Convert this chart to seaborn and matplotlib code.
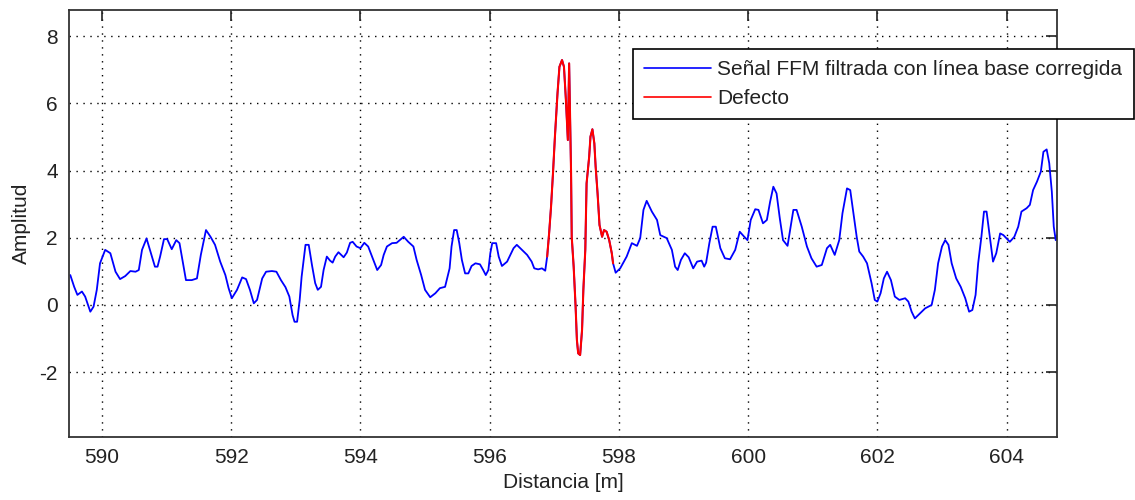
import numpy as np
import pandas as pd
import matplotlib
matplotlib.use("Agg")
import matplotlib.pyplot as plt
import seaborn as sns

# signal (distance in m, amplitude)
distancia = [
    589.51, 589.57, 589.62, 589.69, 589.74, 589.82, 589.87, 589.92, 589.97, 590.05,
    590.13, 590.21, 590.28, 590.36, 590.44, 590.52, 590.57, 590.62, 590.69, 590.75,
    590.82, 590.86, 590.90, 590.96, 591.01, 591.08, 591.15, 591.20, 591.30, 591.39,
    591.47, 591.53, 591.61, 591.68, 591.75, 591.83, 591.91, 591.96, 592.01, 592.09,
    592.17, 592.23, 592.29, 592.35, 592.40, 592.48, 592.54, 592.63, 592.70, 592.77,
    592.84, 592.90, 592.95, 592.98, 593.02, 593.06, 593.09, 593.15, 593.20, 593.25,
    593.30, 593.34, 593.39, 593.43, 593.48, 593.53, 593.57, 593.61, 593.66, 593.74,
    593.79, 593.84, 593.88, 593.94, 594.00, 594.06, 594.12, 594.20, 594.26, 594.32,
    594.36, 594.41, 594.49, 594.56, 594.61, 594.67, 594.74, 594.82, 594.87, 594.94,
    595.00, 595.08, 595.16, 595.23, 595.31, 595.38, 595.41, 595.45, 595.49, 595.53,
    595.57, 595.62, 595.67, 595.72, 595.78, 595.85, 595.90, 595.94, 595.98, 596.01,
    596.04, 596.10, 596.14, 596.19, 596.27, 596.32, 596.37, 596.42, 596.50, 596.58,
    596.65, 596.69, 596.75, 596.81, 596.86, 596.89, 596.92, 596.95, 596.98, 597.01,
    597.05, 597.08, 597.12, 597.15, 597.18, 597.21, 597.23, 597.26, 597.27, 597.30,
    597.33, 597.35, 597.37, 597.40, 597.43, 597.45, 597.48, 597.50, 597.54, 597.56,
    597.59, 597.62, 597.64, 597.67, 597.70, 597.74, 597.77, 597.81, 597.85, 597.89,
    597.91, 597.95, 598.02, 598.12, 598.20, 598.28, 598.33, 598.38, 598.43, 598.51,
    598.59, 598.64, 598.74, 598.82, 598.87, 598.91, 598.96, 599.02, 599.08, 599.15,
    599.21, 599.28, 599.32, 599.35, 599.40, 599.45, 599.50, 599.57, 599.64, 599.72,
    599.80, 599.87, 599.94, 599.99, 600.04, 600.11, 600.16, 600.23, 600.29, 600.34,
    600.39, 600.44, 600.49, 600.54, 600.61, 600.65, 600.70, 600.75, 600.83, 600.91,
    600.98, 601.06, 601.14, 601.22, 601.27, 601.34, 601.41, 601.46, 601.53, 601.58,
    601.63, 601.68, 601.72, 601.78, 601.84, 601.91, 601.96, 602.00, 602.05, 602.10,
    602.15, 602.21, 602.27, 602.34, 602.43, 602.48, 602.53, 602.58, 602.66, 602.74,
    602.84, 602.89, 602.94, 603.00, 603.05, 603.10, 603.15, 603.22, 603.29, 603.36,
    603.42, 603.47, 603.52, 603.56, 603.61, 603.65, 603.69, 603.74, 603.79, 603.84,
    603.90, 603.95, 604.05, 604.12, 604.18, 604.23, 604.31, 604.36, 604.41, 604.47,
    604.53, 604.57, 604.62, 604.66, 604.70, 604.73, 604.76, 604.78,
]
amplitud = [
    0.89, 0.54, 0.30, 0.40, 0.25, -0.20, -0.05, 0.45, 1.24, 1.64,
    1.54, 0.99, 0.77, 0.86, 1.01, 0.99, 1.04, 1.64, 1.98, 1.59,
    1.14, 1.14, 1.44, 1.96, 1.96, 1.66, 1.93, 1.84, 0.74, 0.74,
    0.79, 1.49, 2.23, 2.03, 1.79, 1.29, 0.89, 0.50, 0.20, 0.45,
    0.82, 0.77, 0.45, 0.05, 0.15, 0.79, 0.99, 1.01, 0.99, 0.74,
    0.53, 0.25, -0.30, -0.50, -0.50, 0.15, 0.84, 1.79, 1.79, 1.19,
    0.65, 0.45, 0.54, 1.04, 1.44, 1.32, 1.26, 1.44, 1.57, 1.42,
    1.56, 1.85, 1.88, 1.74, 1.69, 1.85, 1.74, 1.34, 1.04, 1.19,
    1.49, 1.74, 1.84, 1.85, 1.93, 2.03, 1.88, 1.74, 1.34, 0.89,
    0.45, 0.23, 0.35, 0.50, 0.54, 1.09, 1.74, 2.23, 2.23, 1.84,
    1.34, 0.94, 0.94, 1.16, 1.24, 1.21, 1.04, 0.89, 1.04, 1.54,
    1.84, 1.84, 1.44, 1.16, 1.29, 1.49, 1.69, 1.79, 1.64, 1.49,
    1.29, 1.09, 1.06, 1.09, 1.02, 1.44, 2.13, 2.93, 3.92, 5.01,
    6.30, 7.09, 7.29, 7.09, 6.10, 4.91, 7.19, 3.92, 2.03, 1.14,
    -0.05, -1.04, -1.44, -1.49, -0.74, 0.45, 1.64, 3.62, 4.41, 5.01,
    5.23, 4.81, 4.12, 3.32, 2.38, 2.03, 2.23, 2.18, 1.93, 1.54,
    1.24, 0.96, 1.09, 1.44, 1.84, 1.76, 1.99, 2.83, 3.10, 2.78,
    2.53, 2.08, 1.99, 1.64, 1.14, 1.04, 1.34, 1.54, 1.42, 1.09,
    1.29, 1.32, 1.14, 1.26, 1.84, 2.33, 2.33, 1.69, 1.39, 1.36,
    1.64, 2.18, 2.03, 1.93, 2.53, 2.85, 2.83, 2.43, 2.53, 3.07,
    3.52, 3.32, 2.58, 1.93, 1.76, 2.23, 2.83, 2.83, 2.33, 1.74,
    1.39, 1.14, 1.19, 1.69, 1.79, 1.49, 1.93, 2.73, 3.47, 3.42,
    2.73, 2.03, 1.59, 1.44, 1.24, 0.65, 0.15, 0.10, 0.35, 0.79,
    0.99, 0.74, 0.25, 0.15, 0.20, 0.10, -0.20, -0.40, -0.25, -0.10,
    0.00, 0.45, 1.24, 1.74, 1.93, 1.79, 1.24, 0.79, 0.54, 0.20,
    -0.20, -0.15, 0.30, 1.24, 2.03, 2.78, 2.78, 2.03, 1.29, 1.54,
    2.13, 2.08, 1.88, 2.03, 2.33, 2.78, 2.88, 2.98, 3.42, 3.67,
    3.97, 4.56, 4.63, 4.22, 3.37, 2.33, 1.93, 2.08,
]
defecto_ini = 596.89
defecto_fin = 597.91

df = pd.DataFrame({"x": distancia, "y": amplitud})
defecto = df[(df["x"] >= defecto_ini) & (df["x"] <= defecto_fin)]

sns.set_style("white")
plt.rcParams["font.family"] = ["Liberation Sans", "DejaVu Sans"]
plt.rcParams["axes.unicode_minus"] = False

fig = plt.figure(figsize=(11.35, 5.0), dpi=100)
ax = fig.add_axes([69 / 1135, 1 - 437 / 500, (1057 - 69) / 1135, (437 - 10) / 500])

sns.lineplot(data=df, x="x", y="y", ax=ax, color="#0000ff", linewidth=1.3,
             estimator=None, sort=False, label="Señal FFM filtrada con línea base corregida")
sns.lineplot(data=defecto, x="x", y="y", ax=ax, color="#ff0000", linewidth=1.5,
             estimator=None, sort=False, label="Defecto", zorder=5)

ax.set_xlim(589.49, 604.78)
ax.set_ylim(-3.93, 8.78)
ax.set_xticks(np.arange(590, 605, 2))
ax.set_yticks(np.arange(-2, 9, 2))
ax.grid(True, linestyle=(0, (1, 4)), color="black", linewidth=1.0)
ax.tick_params(direction="in", length=8, width=1.2, top=True, right=True,
               labelsize=15, colors="#222222", pad=8)
for s in ax.spines.values():
    s.set_color("#333333")
    s.set_linewidth(1.3)

ax.set_xlabel("Distancia [m]", fontsize=15, color="#222222", labelpad=4)
ax.set_ylabel("Amplitud", fontsize=15, color="#222222", labelpad=6)

leg = ax.legend(loc="upper left", bbox_to_anchor=(633 / 1135, 1 - 49 / 500),
                bbox_transform=fig.transFigure, borderaxespad=0, fontsize=15,
                frameon=True, fancybox=False, framealpha=1, handlelength=3.2,
                handletextpad=0.3, borderpad=0.55, labelspacing=0.45)
leg.get_frame().set_edgecolor("black")
leg.get_frame().set_linewidth(1.2)
for t in leg.get_texts():
    t.set_color("#222222")
for h in leg.get_lines():
    h.set_linewidth(1.2)

fig.savefig("out.png", dpi=100)
